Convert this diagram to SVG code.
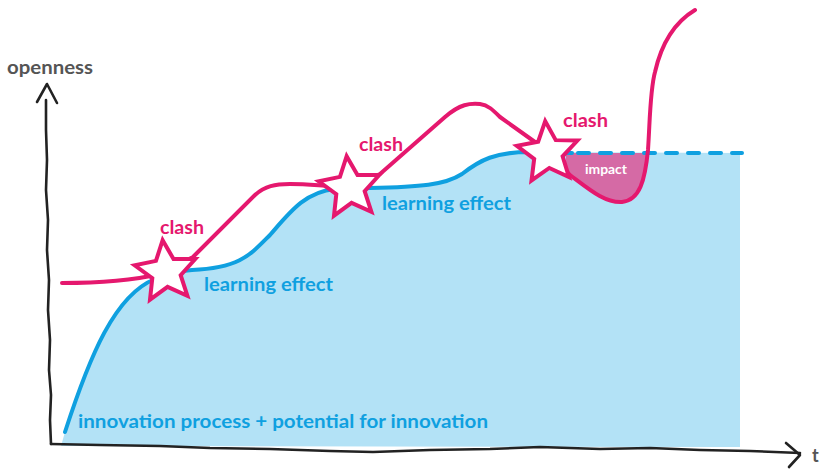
<svg xmlns="http://www.w3.org/2000/svg" width="821" height="470" viewBox="0 0 821 470">
<style>
.pink{fill:none;stroke:#e5186e;stroke-width:4;stroke-linecap:round;stroke-linejoin:round}
.blue{fill:none;stroke:#0fa0e0;stroke-width:4;stroke-linecap:round;stroke-linejoin:round}
.axis{fill:none;stroke:#222;stroke-width:2.6;stroke-linecap:round;stroke-linejoin:round}
.star{fill:#fff;stroke:#e5186e;stroke-width:4;stroke-linejoin:miter}
text{font-family:Lato,"Open Sans","Liberation Sans",sans-serif;font-weight:700}
.tp{fill:#e5186e;font-size:18px}
.tb{fill:#0fa0e0;font-size:19px}
</style>
<defs>
<polygon id="starShape" points="0,-32 8.82,-12.14 30.43,-9.89 14.27,4.64 18.81,25.89 0,15 -18.81,25.89 -14.27,4.64 -30.43,-9.89 -8.82,-12.14"/>
</defs>
<g id="area">
<path d="M61,446 L65,432 C90,355 115,295 155,279 C170,273 180,271 192,270 C240,268 250,255 270,235 C290,212 305,192 335,189 L370,188 C420,187 445,185 462,174 C480,160 495,152 530,152 L740,153 L740,447 Z" fill="#b3e2f6"/>
<path d="M566,153 L566,172 C588,188 605,203 622,202 C640,200 645,180 648,153 Z" fill="#d56aa5"/>
</g>
<g id="connectors">
<path id="axes-y" class="axis" d="M51,444 L50,420 L51,395 L49,370 L50,340 L48,310 L49,280 L47,250 L48,220 L46,190 L47,160 L46,130 L46,100"/>
<path class="axis" d="M37,102 L47,84 L57,103"/>
<path id="axes-x" class="axis" d="M51,444 L100,445 L160,446 L210,448 L270,449 L330,451 L373,452 L430,450 L490,449 L540,447 L600,449 L650,448 L700,450 L750,451 L800,453"/>
<path class="axis" d="M786,443 L800,455 L789,467"/>
<path class="blue" d="M65,432 C90,355 115,295 155,279 C170,273 180,271 192,270 C240,268 250,255 270,235 C290,212 305,192 335,189 L370,188 C420,187 445,185 462,174 C480,160 495,152 530,152 L572,153"/>
<path class="blue" d="M578,153 L742,153" stroke-dasharray="11 11"/>
<path class="pink" d="M62,283 C100,283 130,281 160,274 L193,257 L255,195 C265,186 275,184 290,184 C310,184 320,186 345,187 L380,174 L445,117 C460,104 470,103 480,104 C488,105 493,110 500,117 L535,142 L556,160 L570,175 C590,190 605,203 622,202 C640,200 645,180 648,150 C650,120 650,90 655,72 C660,50 670,25 695,10"/>
</g>
<g id="star1"><use href="#starShape" class="star" transform="translate(166,272) rotate(-6)"/><text class="tp" x="160" y="234" textLength="44" lengthAdjust="spacingAndGlyphs">clash</text></g>
<g id="star2"><use href="#starShape" class="star" transform="translate(350,188) rotate(-6)"/><text class="tp" x="359" y="151" textLength="44" lengthAdjust="spacingAndGlyphs">clash</text></g>
<g id="star3"><use href="#starShape" class="star" transform="translate(548,153) rotate(-5)"/><text class="tp" x="563" y="127" textLength="45" lengthAdjust="spacingAndGlyphs">clash</text></g>
<g id="labels">
<text class="tb" x="204" y="291" textLength="129" lengthAdjust="spacingAndGlyphs">learning effect</text>
<text class="tb" x="382" y="210" textLength="129" lengthAdjust="spacingAndGlyphs">learning effect</text>
<text class="tb" x="78" y="428" textLength="410" lengthAdjust="spacingAndGlyphs">innovation process + potential for innovation</text>
<text x="585" y="174" fill="#fff" font-size="13" textLength="42" lengthAdjust="spacingAndGlyphs">impact</text>
<text x="7" y="74" fill="#555" font-size="18" textLength="86" lengthAdjust="spacingAndGlyphs">openness</text>
<text x="812" y="462" fill="#555" font-size="18">t</text>
</g>
</svg>
